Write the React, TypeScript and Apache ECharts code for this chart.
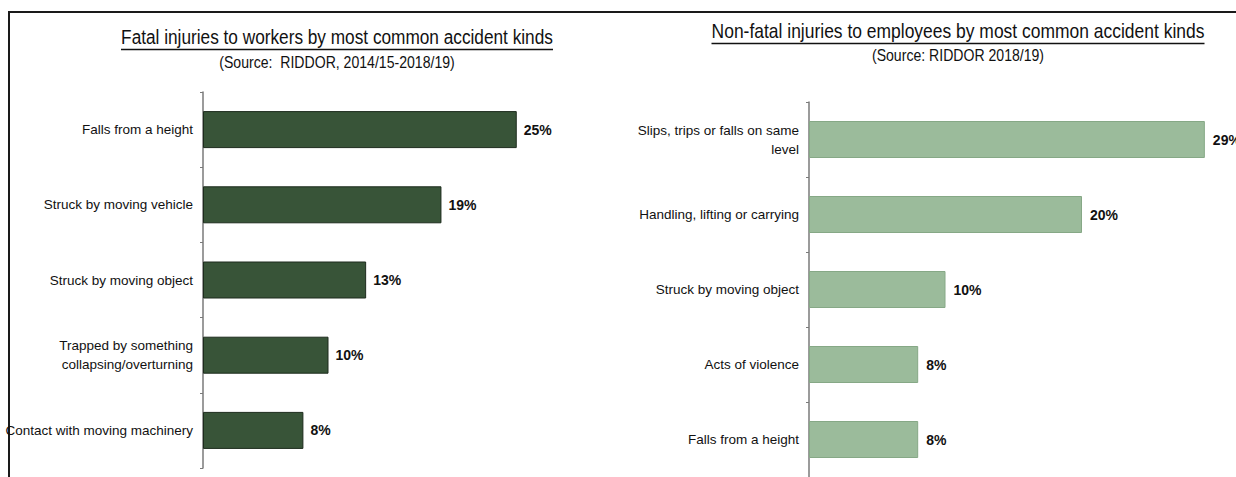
import React, { useEffect, useRef } from "react";
import * as echarts from "echarts";

const fatalCategories = [
  "Falls from a height",
  "Struck by moving vehicle",
  "Struck by moving object",
  "Trapped by something\ncollapsing/overturning",
  "Contact with moving machinery",
];
const fatalValues = [25, 19, 13, 10, 8];

const nonFatalCategories = [
  "Slips, trips or falls on same\nlevel",
  "Handling, lifting or carrying",
  "Struck by moving object",
  "Acts of violence",
  "Falls from a height",
];
const nonFatalValues = [29, 20, 10, 8, 8];

const leftTitle = "Fatal injuries to workers by most common accident kinds";
const leftSubtitle = "(Source:  RIDDOR, 2014/15-2018/19)";
const rightTitle = "Non-fatal injuries to employees by most common accident kinds";
const rightSubtitle = "(Source: RIDDOR 2018/19)";

const FONT = "'Liberation Sans', Arial, sans-serif";

function measure(text: string, size: number): number {
  const c = document.createElement("canvas");
  const ctx = c.getContext("2d");
  if (!ctx) return text.length * size * 0.5;
  ctx.font = `${size}px ${FONT}`;
  return ctx.measureText(text).width;
}

export default function App() {
  const ref = useRef<HTMLDivElement>(null);
  useEffect(() => {
    if (!ref.current) return;
    const chart = echarts.init(ref.current, null, { renderer: "svg" });
    const titleSize = 20;
    const lw = measure(leftTitle, titleSize);
    const rw = measure(rightTitle, titleSize);
    const lScale = 432 / lw;
    const rScale = 493 / rw;
    const lcx = 337;
    const rcx = 958;
    const subSize = 16;
    const subScale = 0.88;

    const catAxis = (cats: string[], gridIndex: number) => ({
      type: "category",
      gridIndex,
      data: cats,
      inverse: true,
      axisLine: { show: true, lineStyle: { color: "#7a7a7a", width: 1.5 } },
      axisTick: { show: true, length: 3, lineStyle: { color: "#7a7a7a" } },
      axisLabel: {
        color: "#111",
        fontSize: 13.5,
        fontFamily: FONT,
        margin: 10,
        lineHeight: 19,
        align: "right",
      },
    });
    const valAxis = (gridIndex: number) => ({
      type: "value",
      gridIndex,
      min: 0,
      max: 30,
      show: false,
      splitLine: { show: false },
    });

    const valueLabel = (distance: number) => ({
      show: true,
      position: "right",
      distance,
      formatter: "{c}%",
      color: "#111",
      fontWeight: "bold",
      fontSize: 14,
      fontFamily: FONT,
    });

    chart.setOption({
      animation: false,
      backgroundColor: "#ffffff",
      grid: [
        { left: 203, top: 92, width: 376.5, height: 376, outerBoundsMode: "none", containLabel: false },
        { left: 809, top: 102, width: 409.5, height: 375, outerBoundsMode: "none", containLabel: false },
      ],
      xAxis: [valAxis(0), valAxis(1)],
      yAxis: [catAxis(fatalCategories, 0), catAxis(nonFatalCategories, 1)],
      series: [
        {
          type: "bar",
          xAxisIndex: 0,
          yAxisIndex: 0,
          data: fatalValues,
          barWidth: 37,
          itemStyle: { color: "#385438", borderColor: "#1c2b1c", borderWidth: 1 },
          label: valueLabel(7),
        },
        {
          type: "bar",
          xAxisIndex: 1,
          yAxisIndex: 1,
          data: nonFatalValues,
          barWidth: 37,
          itemStyle: { color: "#9bbb9b", borderColor: "#86a886", borderWidth: 1 },
          label: valueLabel(8),
        },
      ],
      graphic: [
        { type: "line", shape: { x1: 8, y1: 12, x2: 1236, y2: 12 }, style: { stroke: "#1a1a1a", lineWidth: 2 } },
        { type: "line", shape: { x1: 9, y1: 12, x2: 9, y2: 477 }, style: { stroke: "#1a1a1a", lineWidth: 2 } },
        {
          type: "text",
          x: lcx,
          y: 37,
          scaleX: lScale,
          style: { text: leftTitle, fontSize: titleSize, fontFamily: FONT, fill: "#111", align: "center", verticalAlign: "middle" },
        },
        { type: "line", shape: { x1: lcx - 216, y1: 49.5, x2: lcx + 216, y2: 49.5 }, style: { stroke: "#111", lineWidth: 1.3 } },
        {
          type: "text",
          x: lcx,
          y: 62,
          scaleX: subScale,
          style: { text: leftSubtitle, fontSize: subSize, fontFamily: FONT, fill: "#111", align: "center", verticalAlign: "middle" },
        },
        {
          type: "text",
          x: rcx,
          y: 31,
          scaleX: rScale,
          style: { text: rightTitle, fontSize: titleSize, fontFamily: FONT, fill: "#111", align: "center", verticalAlign: "middle" },
        },
        { type: "line", shape: { x1: rcx - 246.5, y1: 43.5, x2: rcx + 246.5, y2: 43.5 }, style: { stroke: "#111", lineWidth: 1.3 } },
        {
          type: "text",
          x: rcx,
          y: 55,
          scaleX: subScale,
          style: { text: rightSubtitle, fontSize: subSize, fontFamily: FONT, fill: "#111", align: "center", verticalAlign: "middle" },
        },
      ],
    });
    return () => chart.dispose();
  }, []);
  return (
    <div
      ref={ref}
      style={{ position: "fixed", left: 0, top: 0, width: 1236, height: 477, background: "#fff" }}
    />
  );
}
